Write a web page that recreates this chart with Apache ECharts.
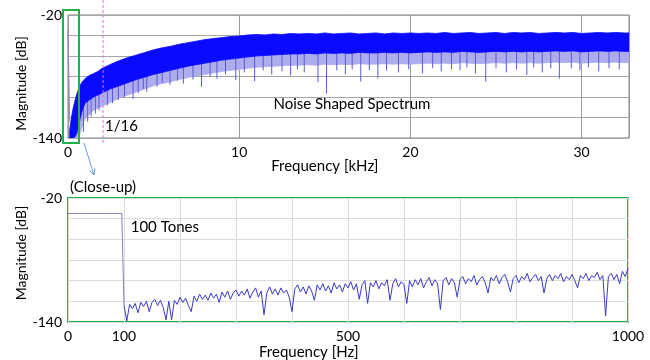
<!DOCTYPE html>
<html>
<head>
<meta charset="utf-8">
<script src="https://cdn.jsdelivr.net/npm/echarts@6/dist/echarts.min.js"></script>
<style>
  html, body { margin: 0; padding: 0; background: #fff; }
  #chart { width: 650px; height: 360px; }
</style>
</head>
<body>
<div id="chart"></div>
<script>
// full band view (kHz): upper edge, lower edge of the dense band, end of the light fuzz
const specKHz = [
  0.1, 0.2, 0.3, 0.4, 0.5, 0.6, 0.7, 0.8, 0.9, 1.0, 1.25, 1.5, 1.75, 2.0, 2.5, 3.0, 3.5, 4.0, 4.5, 5.0,
  5.5, 6.0, 6.5, 7.0, 7.5, 8.0, 8.5, 9.0, 9.5, 10.0,
  10.5, 11.0, 11.5, 12.0, 12.5, 13.0, 13.5, 14.0, 14.5, 15.0, 15.5, 16.0, 16.5, 17.0, 17.5, 18.0, 18.5, 19.0, 19.5, 20.0,
  20.5, 21.0, 21.5, 22.0, 22.5, 23.0, 23.5, 24.0, 24.5, 25.0, 25.5, 26.0, 26.5, 27.0, 27.5, 28.0, 28.5, 29.0, 29.5, 30.0,
  30.5, 31.0, 31.5, 32.0, 32.5, 32.768
];
const specHi = [
  -132, -120, -111, -104, -98, -93, -89, -86, -84, -82, -79, -77, -75, -72, -68, -64.5, -61.5, -59, -56.5, -54,
  -52, -50.5, -48.5, -47, -45.5, -44, -43, -42, -41, -40.5,
  -39.5, -39, -39.5, -38.5, -39, -38, -38.5, -38, -38.5, -37.5, -38.5, -38, -37.5, -38.5, -38, -37.5, -38.5, -37.5, -38, -37.5,
  -38, -37.5, -38, -37, -38, -37.5, -37, -38, -37.5, -37, -38, -37, -37.5, -37, -38, -37.5, -37, -37.5, -37, -38,
  -37.5, -37, -37.5, -37, -37.5, -37.5
];
const specLo = [
  -140, -140, -140, -139, -136, -130, -122, -115, -110, -106, -103, -100, -98, -96, -92, -89, -86, -83, -80.5, -78,
  -76, -74, -72, -70, -68.5, -67, -65.5, -64, -63, -62,
  -61, -60, -59.5, -59, -58.5, -58, -58, -57.5, -58, -57, -57.5, -57, -57.5, -56.5, -57, -57, -56.5, -57, -56.5, -57,
  -56.5, -56, -56.5, -56, -56.5, -55.5, -56, -56.5, -56, -55.5, -56, -55.5, -56, -55.5, -56, -55.5, -55, -55.5, -55, -56,
  -55.5, -55, -55.5, -55, -55.5, -55.5
];
const specFuzz = [
  -140, -140, -140, -140, -140, -140, -136, -130, -125, -121, -117, -113, -111, -109, -105, -101, -98, -95, -92, -89,
  -87, -85, -83, -81, -79.5, -78, -76.5, -75, -74, -73,
  -72, -71, -70.5, -70, -69.5, -69, -69, -68.5, -69, -68, -68.5, -68, -68.5, -67.5, -68, -68, -67.5, -68, -67.5, -68,
  -67.5, -67, -67.5, -67, -67.5, -66.5, -67, -67.5, -67, -66.5, -67, -66.5, -67, -66.5, -67, -66.5, -66, -66.5, -66, -67,
  -66.5, -66, -66.5, -66, -66.5, -66.5
];
// downward spikes seen below the band in the full band view
const spikeKHz = [0.9, 1.15, 1.35, 1.6, 1.81, 2.3, 2.6, 2.94, 3.3, 3.8, 4.1, 4.4, 4.6, 5.2, 5.5, 5.96, 6.4, 6.74, 7.3, 7.8,
  8.3, 8.7, 9.2, 9.8, 10.3, 10.9, 11.4, 11.9, 12.5, 13.0, 13.4, 13.8, 14.6, 15.1, 15.7, 16.2, 16.6, 17.1, 17.6, 18.1,
  18.6, 19.3, 19.9, 20.7, 21.3, 21.8, 22.4, 22.9, 23.3, 23.8, 24.4, 25.0, 25.6, 26.2, 26.8, 27.2, 27.7, 28.2, 28.7,
  29.4, 29.9, 30.4, 31.0, 31.6, 32.2];
const spikeDb = [-134, -124, -119, -116, -113, -108, -106, -103, -100, -102, -96, -92, -95, -90, -86, -88, -84, -87, -83, -90,
  -80, -82, -78, -83.5, -76, -84.5, -74, -78, -75, -79, -73, -76, -85.5, -96.5, -74, -78, -73, -85, -74, -82,
  -74, -76, -73, -77, -72, -75, -73, -74, -71, -77, -85, -72, -76, -73, -78.5, -71, -76, -72, -82,
  -72, -74, -71, -75, -72, -73];

// close-up (Hz): 100 tones at 0..99 Hz, then noise every 5 Hz from 100 to 1000 Hz
const toneCount = 100;
const toneDb = -35;
const noiseStartHz = 100;
const noiseStepHz = 5;
const noiseDb = [
  -124, -139, -123, -127, -122, -131, -121, -125, -120, -130,
  -121, -118, -124, -119, -126, -138, -120, -138, -119, -123,
  -116, -121, -117, -124, -130, -115, -120, -113, -118, -114,
  -119, -112, -117, -113, -121, -111, -116, -110, -118, -112,
  -109, -115, -110, -114, -108, -117, -111, -107, -116, -110,
  -133, -112, -106, -113, -108, -114, -107, -112, -109, -116,
  -130, -108, -104, -111, -106, -113, -105, -110, -119, -104,
  -109, -103, -110, -105, -112, -102, -108, -104, -111, -103,
  -107, -101, -109, -103, -118, -104, -100, -122, -102, -106,
  -100, -108, -102, -105, -99, -119, -103, -98, -106, -101,
  -104, -122, -100, -106, -99, -104, -98, -107, -101, -97,
  -105, -99, -103, -128, -100, -97, -104, -98, -102, -116,
  -99, -96, -103, -98, -101, -95, -104, -99, -96, -102,
  -112, -97, -100, -95, -103, -97, -94, -101, -111, -98,
  -95, -102, -96, -99, -93, -101, -97, -94, -100, -96,
  -112, -98, -94, -100, -95, -98, -93, -101, -96, -99,
  -94, -100, -107, -95, -98, -93, -100, -95, -97, -92,
  -99, -95, -134, -96, -93, -99, -94, -103, -91, -96,
  -88
];

const topXLabels = [0, 10, 20, 30];
const bottomXLabels = [0, 100, 500, 1000];
const yLabels = [-20, -140];

const FONT = "Lato";
const chart = echarts.init(document.getElementById("chart"), null, { renderer: "canvas" });

const tonesHz = [];
for (let i = 0; i < toneCount; i++) tonesHz.push([i, toneDb]);
tonesHz.push([noiseStartHz, noiseDb[0]]);
const noiseHz = noiseDb.map((v, i) => [noiseStartHz + i * noiseStepHz, v]);

const nearestLo = (f) => {
  let best = 0;
  specKHz.forEach((k, i) => {
    if (Math.abs(k - f) < Math.abs(specKHz[best] - f)) best = i;
  });
  return specLo[best];
};

// one filled polygon between two edge arrays: item 0 draws it, through the axes
const bandRenderer = (upper, lower, color) => (params, api) => {
  if (params.dataIndex !== 0) return null;
  const pts = [];
  specKHz.forEach((f, i) => pts.push(api.coord([f, upper[i]])));
  for (let i = specKHz.length - 1; i >= 0; i--) pts.push(api.coord([specKHz[i], lower[i]]));
  return { type: "polygon", shape: { points: pts }, style: { fill: color, stroke: color, lineWidth: 0.8 } };
};
const bandData = (upper) => specKHz.map((f, i) => [f, upper[i]]);

const yLabel = (v) => (yLabels.includes(v) ? String(v) : "");
const axisFont = { fontFamily: FONT, fontSize: 14, color: "#000" };

const options = {
  animation: false,
  grid: [
    { left: 68, right: 21, top: 15, bottom: 222, show: true, borderColor: "#7f7f7f", borderWidth: 1 },
    { left: 68, right: 22, top: 198, bottom: 38, show: true, borderColor: "#21b24b", borderWidth: 2 },
  ],
  xAxis: [
    {
      gridIndex: 0, type: "value", min: 0, max: 32.768, interval: 10,
      axisLine: { show: false }, axisTick: { show: false },
      axisLabel: { ...axisFont, margin: 7, formatter: (v) => (topXLabels.includes(v) ? String(v) : "") },
      splitLine: { lineStyle: { color: "#999999", width: 1 } },
    },
    {
      gridIndex: 1, type: "value", min: 0, max: 1000, interval: 100,
      axisLine: { show: false }, axisTick: { show: false },
      axisLabel: { ...axisFont, margin: 7, formatter: (v) => (bottomXLabels.includes(v) ? String(v) : "") },
      splitLine: { lineStyle: { color: "#dcdcdc", width: 1 } },
    },
  ],
  yAxis: [
    {
      gridIndex: 0, type: "value", min: -140, max: -20, interval: 20,
      axisLine: { show: false }, axisTick: { show: false },
      axisLabel: { ...axisFont, margin: 6, formatter: yLabel },
      splitLine: { lineStyle: { color: "#a6a6a6", width: 1 } },
    },
    {
      gridIndex: 1, type: "value", min: -140, max: -20, interval: 20,
      axisLine: { show: false }, axisTick: { show: false },
      axisLabel: { ...axisFont, margin: 6, formatter: yLabel },
      splitLine: { lineStyle: { color: "#dcdcdc", width: 1 } },
    },
  ],
  series: [
    {
      name: "fuzz", type: "custom", xAxisIndex: 0, yAxisIndex: 0, silent: true, clip: true,
      data: bandData(specLo),
      renderItem: bandRenderer(specLo, specFuzz, "#adadee"),
    },
    {
      name: "spikes", type: "custom", xAxisIndex: 0, yAxisIndex: 0, silent: true, clip: true,
      data: spikeKHz.map((f, i) => [f, spikeDb[i], nearestLo(f) + 3]),
      renderItem: (params, api) => {
        const a = api.coord([api.value(0), api.value(1)]);
        const b = api.coord([api.value(0), api.value(2)]);
        return {
          type: "line",
          shape: { x1: a[0], y1: a[1], x2: b[0], y2: b[1] },
          style: { stroke: "#5a5ad6", lineWidth: 1 },
        };
      },
    },
    {
      name: "band", type: "custom", xAxisIndex: 0, yAxisIndex: 0, silent: true, clip: true,
      data: bandData(specHi),
      renderItem: bandRenderer(specHi, specLo, "#0a0aff"),
    },
    {
      name: "tonesFull", type: "line", xAxisIndex: 0, yAxisIndex: 0,
      data: tonesHz.map((p) => [p[0] / 1000, p[1]]),
      showSymbol: false, silent: true, lineStyle: { color: "#8a8ac4", width: 1 },
    },
    {
      name: "tones", type: "line", xAxisIndex: 1, yAxisIndex: 1,
      data: tonesHz,
      showSymbol: false, silent: true, lineStyle: { color: "#8080bc", width: 1 },
    },
    {
      name: "noise", type: "line", xAxisIndex: 1, yAxisIndex: 1,
      data: noiseHz,
      showSymbol: false, silent: true, lineStyle: { color: "#3a3ac6", width: 1 },
    },
  ],
};
chart.setOption(options);

// annotations placed through the axes
const top0 = chart.convertToPixel({ gridIndex: 0 }, [0, -20]);
const bot0 = chart.convertToPixel({ gridIndex: 0 }, [0, -140]);
const closeTop = chart.convertToPixel({ gridIndex: 1 }, [0, -20]);
const closeBot = chart.convertToPixel({ gridIndex: 1 }, [0, -140]);
const pinkX = chart.convertToPixel({ gridIndex: 0 }, [32.768 / 16, -20])[0];
const sixteenthY = chart.convertToPixel({ gridIndex: 0 }, [0, -128])[1];
const nssPos = chart.convertToPixel({ gridIndex: 0 }, [12, -107]);
const tonesPos = chart.convertToPixel({ gridIndex: 1 }, [112, -48]);
const kHzTitleX = chart.convertToPixel({ gridIndex: 0 }, [15, -20])[0];
const hzTitleX = chart.convertToPixel({ gridIndex: 1 }, [430, -20])[0];

const rectX = top0[0] - 5;
const rectY = top0[1] - 5;
const rectH = bot0[1] - top0[1] + 10;
const arrowA = [rectX + 21, rectY + rectH];
const arrowB = [rectX + 31, closeTop[1] - 23];
const dx = arrowB[0] - arrowA[0], dy = arrowB[1] - arrowA[1];
const len = Math.hypot(dx, dy), ux = dx / len, uy = dy / len;

const textStyle = (extra) => ({ fontFamily: FONT, fontSize: 15, fill: "#000", ...extra });

chart.setOption({
  graphic: [
    {
      type: "line", silent: true, z: 100,
      shape: { x1: pinkX, y1: 0, x2: pinkX, y2: bot0[1] + 7 },
      style: { stroke: "#f266ee", lineWidth: 1, lineDash: [3, 2] },
    },
    {
      type: "rect", silent: true, z: 101,
      shape: { x: rectX, y: rectY, width: 16, height: rectH },
      style: { fill: "none", stroke: "#21b24b", lineWidth: 2 },
    },
    {
      type: "line", silent: true, z: 100,
      shape: { x1: arrowA[0], y1: arrowA[1], x2: arrowB[0], y2: arrowB[1] },
      style: { stroke: "#6b9bd6", lineWidth: 1 },
    },
    {
      type: "polyline", silent: true, z: 100,
      shape: {
        points: [
          [arrowB[0] - 6 * ux - 3 * uy, arrowB[1] - 6 * uy + 3 * ux],
          arrowB,
          [arrowB[0] - 6 * ux + 3 * uy, arrowB[1] - 6 * uy - 3 * ux],
        ],
      },
      style: { stroke: "#6b9bd6", lineWidth: 1, fill: "none" },
    },
    {
      type: "text", silent: true, z: 102, x: pinkX + 2, y: sixteenthY,
      style: textStyle({ text: "1/16", verticalAlign: "middle" }),
    },
    {
      type: "text", silent: true, z: 102, x: nssPos[0], y: nssPos[1],
      style: textStyle({ text: "Noise Shaped Spectrum", verticalAlign: "middle" }),
    },
    {
      type: "text", silent: true, z: 102, x: kHzTitleX, y: bot0[1] + 28,
      style: textStyle({ text: "Frequency [kHz]", align: "center", verticalAlign: "middle" }),
    },
    {
      type: "text", silent: true, z: 102, x: 21, y: (top0[1] + bot0[1]) / 2 + 7, rotation: Math.PI / 2,
      style: textStyle({ text: "Magnitude [dB]", fontSize: 14, align: "center", verticalAlign: "middle" }),
    },
    {
      type: "text", silent: true, z: 102, x: closeTop[0] + 2, y: closeTop[1] - 11,
      style: textStyle({ text: "(Close-up)", verticalAlign: "middle" }),
    },
    {
      type: "text", silent: true, z: 102, x: tonesPos[0], y: tonesPos[1],
      style: textStyle({ text: "100 Tones", verticalAlign: "middle" }),
    },
    {
      type: "text", silent: true, z: 102, x: hzTitleX, y: closeBot[1] + 30,
      style: textStyle({ text: "Frequency [Hz]", align: "center", verticalAlign: "middle" }),
    },
    {
      type: "text", silent: true, z: 102, x: 21, y: (closeTop[1] + closeBot[1]) / 2 - 7, rotation: Math.PI / 2,
      style: textStyle({ text: "Magnitude [dB]", fontSize: 14, align: "center", verticalAlign: "middle" }),
    },
  ],
});
</script>
</body>
</html>
